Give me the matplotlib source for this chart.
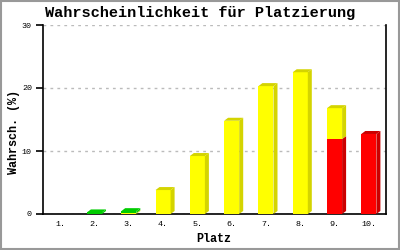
import numpy as np
import matplotlib
matplotlib.use("Agg")
import matplotlib.pyplot as plt
from matplotlib.patches import Polygon, Rectangle

# chart data
places = ['1.', '2.', '3.', '4.', '5.', '6.', '7.', '8.', '9.', '10.']
red = [0, 0, 0, 0, 0, 0, 0, 0, 11.9, 12.7]
yellow = [0, 0, 0.15, 3.8, 9.2, 14.8, 20.3, 22.5, 4.9, 0]
green = [0, 0.25, 0.3, 0, 0, 0, 0, 0, 0, 0]

# front colour, darker side/top colour
segments = [
    (red, '#ff0000', '#cc0000'),
    (yellow, '#ffff00', '#d4d400'),
    (green, '#00cc00', '#00cc00'),
]

mono = 'Liberation Mono'

fig = plt.figure(figsize=(4, 2.5), dpi=100)
ax = fig.add_axes([0.1075, 0.144, 0.8575, 0.756])
ax.set_xlim(0.5, 10.5)
ax.set_ylim(0, 30)

# pixel depth of the fake 3d effect converted to data units
bb = ax.get_window_extent()
dx = 4 * 10 / bb.width
dy = 3 * 30 / bb.height
w = 0.44

x = np.arange(1, 11)
bottom = np.zeros(10)
for vals, front, dark in segments:
    vals = np.array(vals, dtype=float)
    for i in range(10):
        if vals[i] <= 0:
            continue
        y0, y1 = bottom[i], bottom[i] + vals[i]
        ax.bar(x[i], vals[i], width=w, bottom=y0, color=front, zorder=3)
        xr = x[i] + w / 2
        side = [(xr, y0), (xr + dx, y0 + dy), (xr + dx, y1 + dy), (xr, y1)]
        ax.add_patch(Polygon(side, closed=True, color=dark, lw=0, zorder=3))
    bottom += vals

# top faces, coloured by the top segment
for i in range(10):
    if bottom[i] <= 0:
        continue
    col = None
    for vals, front, dark in segments:
        if vals[i] > 0:
            col = dark
    xl = x[i] - w / 2
    xr = x[i] + w / 2
    y1 = bottom[i]
    top = [(xl, y1), (xr, y1), (xr + dx, y1 + dy), (xl + dx, y1 + dy)]
    ax.add_patch(Polygon(top, closed=True, color=col, lw=0, zorder=3))

ax.set_yticks([0, 10, 20, 30])
ax.set_xticks(x)
ax.set_xticklabels(places)
ax.yaxis.grid(True, color='#bbbbbb', linestyle=(0, (2, 3)), linewidth=1)
ax.set_axisbelow(True)
ax.spines['top'].set_visible(False)
for s in ['left', 'right', 'bottom']:
    ax.spines[s].set_color('black')
    ax.spines[s].set_linewidth(1.2)
ax.tick_params(axis='x', length=0, pad=5)
ax.tick_params(axis='y', length=5, width=1.2, direction='out', pad=3)
for lab in ax.get_xticklabels() + ax.get_yticklabels():
    lab.set_fontfamily(mono)
    lab.set_fontsize(6)

fig.text(0.5, 0.948, 'Wahrscheinlichkeit für Platzierung', ha='center', va='center',
         fontfamily=mono, fontweight='bold', fontsize=11)
fig.text(0.535, 0.044, 'Platz', ha='center', va='center',
         fontfamily=mono, fontweight='bold', fontsize=8.5)
fig.text(0.035, 0.47, 'Wahrsch. (%)', ha='center', va='center', rotation=90,
         fontfamily=mono, fontweight='bold', fontsize=8.5)

# grey frame round the picture
fig.patches.append(Rectangle((0.002, 0.003), 0.996, 0.994, transform=fig.transFigure,
                             fill=False, edgecolor='#999999', linewidth=1.5))

fig.savefig('out.png', dpi=100)
